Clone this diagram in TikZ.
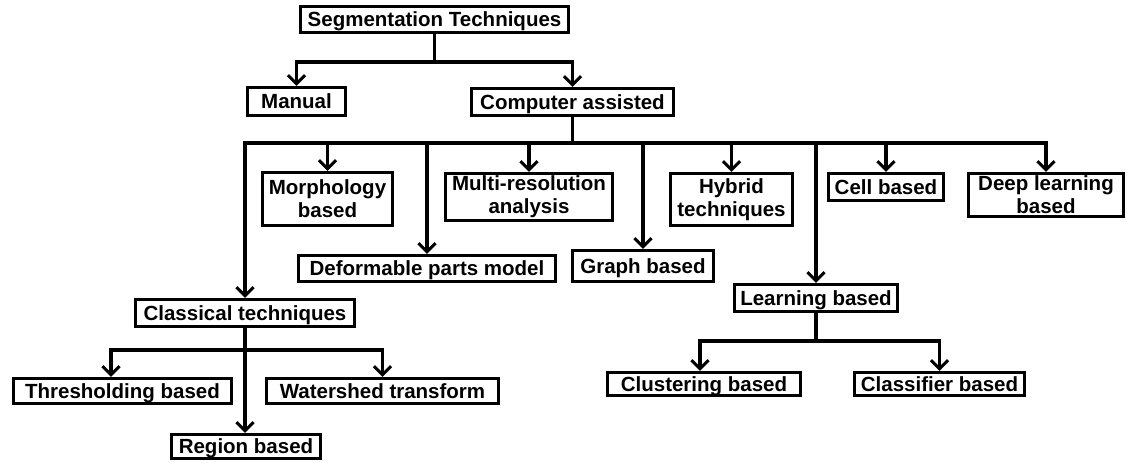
\documentclass[tikz,border=0pt]{standalone}
\usepackage{fontspec}
\setmainfont{Liberation Sans}
\usetikzlibrary{arrows.meta}
\tikzset{
  bx/.style 2 args={draw=black, line width=3.4pt, inner sep=0pt, align=center,
    minimum width=#1pt, minimum height=#2pt,
    font=\fontsize{20.5}{23}\selectfont\bfseries},
  one/.style={text height=14.5pt, text depth=0.5pt},
  arr/.style={line width=3.4pt, -{Straight Barb[length=8.5pt,width=17pt,line width=3pt]}},
  ln/.style={line width=3.4pt}
}
\begin{document}
\begin{tikzpicture}[x=1pt,y=-1pt]
\useasboundingbox (0,0) rectangle (1127,463);
% nodes
\node[bx={268}{26},one] (seg) at (434.5,19.5) {Segmentation Techniques};
\node[bx={98}{28},one] (manual) at (296.5,101.5) {Manual};
\node[bx={202}{27},one] (comp) at (572.5,102) {Computer assisted};
\node[bx={130}{53}] (morph) at (327.5,199) {Morphology\\based};
\node[bx={167}{47}] (multi) at (529,197) {Multi-resolution\\analysis};
\node[bx={122}{52}] (hybrid) at (731.5,199.5) {Hybrid\\techniques};
\node[bx={115}{27},one] (cell) at (886,187) {Cell based};
\node[bx={155}{43}] (deep) at (1046,195) {Deep learning\\based};
\node[bx={257}{26},one] (deform) at (427,268.5) {Deformable parts model};
\node[bx={141}{31},one] (graph) at (643,266) {Graph based};
\node[bx={163}{27},one] (learn) at (816,298) {Learning based};
\node[bx={219}{27},one] (class) at (245,313) {Classical techniques};
\node[bx={218}{25},one] (thresh) at (122.5,391) {Thresholding based};
\node[bx={232}{25},one] (water) at (382.5,391) {Watershed transform};
\node[bx={149}{24},one] (region) at (246,446.5) {Region based};
\node[bx={193}{23},one] (cluster) at (704,384) {Clustering based};
\node[bx={170}{23},one] (classif) at (939.5,384) {Classifier based};
% connectors: level 1
\draw[ln] (seg.south) -- (seg.south |- 0,62);
\draw[arr] (seg.south |- 0,62) -| (manual.north);
\draw[arr] (seg.south |- 0,62) -| (comp.north);
% computer assisted branches
\draw[ln] (comp.south) -- (comp.south |- 0,143);
\foreach \t in {class,morph,deform,multi,graph,hybrid,learn,cell,deep}{
  \draw[arr] (comp.south |- 0,143) -| (\t.north);
}
% classical
\draw[ln] (class.south) -- (class.south |- 0,350);
\draw[arr] (class.south |- 0,350) -| ([xshift=-11.5pt]thresh.north);
\draw[arr] (class.south |- 0,350) -| (water.north);
\draw[arr] (class.south) -- (region.north -| class.south);
% learning
\draw[ln] (learn.south) -- (learn.south |- 0,341);
\draw[arr] (learn.south |- 0,341) -| ([xshift=-4pt]cluster.north);
\draw[arr] (learn.south |- 0,341) -| (classif.north);
\end{tikzpicture}
\end{document}
